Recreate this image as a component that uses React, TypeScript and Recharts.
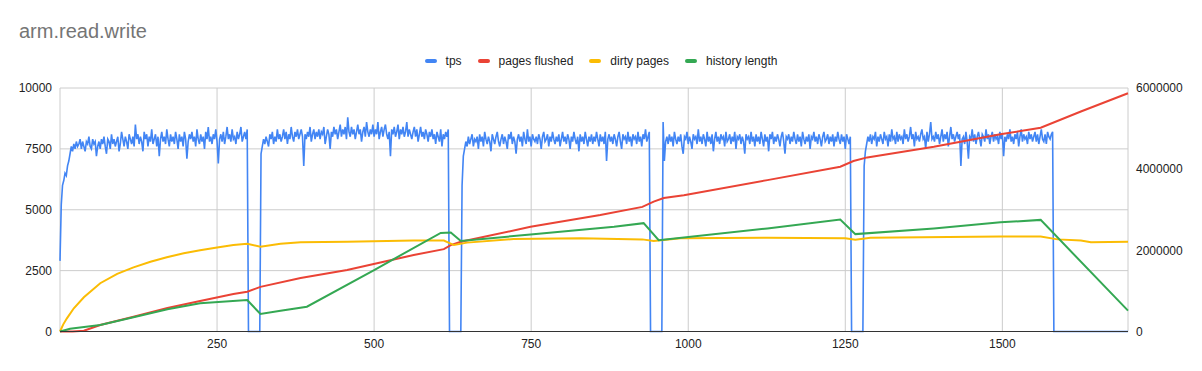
import { LineChart, Line, XAxis, YAxis, CartesianGrid } from "recharts";

// x ticks / axis ticks
const xTicks = [250, 500, 750, 1000, 1250, 1500];
const leftTicks = [0, 2500, 5000, 7500, 10000];
const rightTicks = [0, 2000000, 4000000, 6000000];

// tps is sampled every 2 seconds; each run starts at the x in tpsStarts
const TPS_STEP = 2;
const tpsStarts = [0, 300, 320, 620, 640, 940, 960, 1260, 1280, 1582];
const tpsRun1 = [
  2900, 5200, 6000, 6200, 6500, 6400, 6800, 7000, 7300, 7600, 7400, 7700, 7500, 7800, 7600,
  7700, 7900, 7500, 7800, 7600, 7400, 7800, 7700, 8000, 7600, 7500, 7900, 7700, 7800, 7200,
  7600, 7800, 7500, 7900, 7700, 8000, 7600, 7300, 7900, 7800, 7500, 8100, 7700, 7900, 7600,
  7800, 8000, 7400, 7700, 8200, 7900, 7600, 8000, 7800, 7500, 8100, 7900, 7700, 8000, 7600,
  8500, 7900, 8100, 7700, 8000, 7800, 7400, 8200, 7900, 8100, 7600, 8000, 7800, 8300, 7700,
  7900, 8100, 7600, 8000, 7200, 7900, 8200, 7800, 8000, 7700, 8300, 7900, 7600, 8100, 7800,
  8000, 7700, 8200, 7900, 7500, 8100, 7800, 8000, 7600, 8200, 7900, 7100, 7800, 8100, 7900,
  8200, 7800, 8000, 7600, 8300, 7900, 7700, 8100, 7800, 8000, 7500, 8200, 7900, 8400, 7800,
  8000, 7700, 8100, 7900, 8300, 7800, 6900, 7900, 8100, 7800, 8200, 7700, 8000, 8400, 7900,
  8100, 7800, 8300, 7900, 8000, 7700, 8200, 7900, 8100, 8400, 7800, 8000, 8200, 7900, 8300,
];
const tpsRun2 = [
  7300, 7600, 7900, 7700, 8000, 7800, 7600, 8100, 7900, 8200, 7700, 8000, 7800, 8300, 7900,
  8100, 7800, 8000, 8300, 7900, 8200, 7700, 8100, 7900, 8400, 8000, 7800, 8200, 8000, 8300,
  7900, 8100, 8300, 8000, 6800, 8100, 7900, 8200, 8000, 8400, 7800, 8100, 8300, 7900, 8200,
  8000, 8300, 7900, 8200, 8100, 8400, 7700, 8000, 8300, 8100, 7500, 8200, 8000, 8400, 8100,
  8300, 7900, 8200, 8500, 8000, 8300, 8100, 8400, 7900, 8800, 8200, 8000, 8400, 8100, 8300,
  7900, 8200, 8500, 8100, 8300, 7800, 8200, 8400, 8000, 8600, 8200, 8000, 8300, 8100, 8500,
  8000, 8300, 8100, 8600, 7900, 8200, 8400, 8000, 8300, 8500, 8100, 7900, 8200, 7200, 8300,
  8100, 8400, 8000, 8200, 8500, 7900, 8300, 8100, 8400, 8000, 8200, 8600, 8000, 8300, 8100,
  7900, 8200, 8400, 8000, 8300, 7800, 8100, 8400, 8000, 8200, 7900, 8300, 8100, 7800, 8200,
  8000, 8300, 7900, 8100, 7700, 8200, 8000, 7800, 8300, 7600, 8100, 7900, 8200, 8000, 8300,
];
const tpsRun3 = [
  6000, 7200, 7500, 7800, 7600, 8000, 7700, 7900, 8100, 7600, 7900, 7800, 8000, 7500, 8100,
  7800, 8000, 7600, 8200, 7900, 7700, 8000, 7800, 7400, 8100, 7900, 7700, 8000, 8200, 7800,
  7600, 7900, 8100, 7700, 8000, 7800, 7500, 8100, 7900, 8200, 7700, 8000, 7800, 7300, 7900,
  8100, 7800, 8000, 7600, 8200, 7900, 7700, 8300, 7800, 8000, 7600, 8100, 7900, 7800, 8000,
  7700, 8100, 7900, 7500, 8000, 8200, 7800, 7900, 8100, 7600, 8000, 7800, 8200, 7900, 7700,
  8000, 7800, 8100, 7600, 7900, 8200, 7800, 8000, 7700, 8100, 7900, 7500, 8000, 7800, 8200,
  7900, 7700, 8000, 7400, 8100, 7800, 8000, 7700, 8200, 7900, 7600, 8000, 7800, 8100, 7700,
  8000, 7800, 8200, 7900, 7600, 8100, 7800, 8000, 7700, 8200, 7000, 7900, 8100, 7800, 8000,
  7700, 8100, 7900, 7600, 8000, 8200, 7800, 7500, 8100, 7900, 8000, 7700, 8200, 7800, 8000,
  7600, 8100, 7900, 8000, 7700, 8200, 7800, 8000, 7600, 8100, 7900, 8300, 7800, 8000, 8200,
];
const tpsRun4 = [
  8600, 7000, 7800, 8000, 7700, 8100, 7800, 8000, 7600, 8200, 7900, 7700, 8000, 7800, 8100,
  7600, 7300, 8000, 7900, 8200, 7700, 8000, 7800, 7500, 8100, 7900, 8000, 7700, 8300, 7800,
  8000, 7700, 8100, 7900, 7600, 8200, 7800, 8000, 7700, 8100, 7400, 7900, 8200, 7800, 8000,
  7700, 8100, 7900, 8000, 7600, 8200, 7800, 7900, 8100, 7700, 8000, 7800, 8200, 7500, 8000,
  7900, 8100, 7700, 8000, 7800, 7300, 8100, 7900, 8000, 7700, 8200, 7800, 8000, 7600, 8100,
  7800, 8000, 7700, 8200, 7900, 7600, 8100, 7800, 8000, 7400, 8100, 7900, 8200, 7700, 8000,
  7800, 8100, 7900, 7600, 8000, 8200, 7800, 7300, 8000, 7900, 8100, 7700, 8000, 7800, 8200,
  7900, 7700, 8100, 7800, 8000, 7600, 8200, 7900, 7700, 8000, 7800, 8100, 7500, 8000, 7900,
  8200, 7800, 8000, 7700, 8100, 7900, 7600, 8000, 8200, 7800, 7900, 8100, 7700, 8000, 7800,
  8100, 7600, 8000, 7800, 8200, 7900, 7700, 8100, 7800, 8000, 7500, 8100, 7900, 7700, 8000,
];
const tpsRun5 = [
  6800, 7400, 7700, 8000, 7800, 8100, 7700, 8000, 7900, 8200, 7600, 8000, 7800, 8100, 7900,
  7700, 8200, 7900, 8000, 7600, 8100, 7800, 8300, 7900, 8000, 7700, 8200, 7800, 8100, 7900,
  8000, 7700, 8300, 7900, 8100, 7800, 8000, 8400, 7900, 8100, 7600, 8200, 7900, 8000, 7800,
  8100, 8300, 7900, 8000, 7500, 8200, 7800, 8100, 8600, 7900, 8000, 7800, 8200, 7900, 8100,
  7700, 8000, 8300, 7800, 8100, 7900, 8200, 7600, 8000, 8400, 7900, 8100, 7800, 8000, 8200,
  7900, 8100, 6800, 7900, 8000, 7700, 8200, 7800, 7100, 8000, 7900, 8300, 7800, 8100, 7700,
  8000, 8200, 7900, 7600, 8100, 8000, 7800, 8300, 7900, 8100, 7700, 8000, 8200, 7800, 8100,
  7900, 8000, 7700, 8200, 7900, 8100, 7200, 8000, 7800, 8100, 7900, 8300, 7800, 8000, 7700,
  8100, 7900, 8200, 7600, 8000, 8300, 7800, 8100, 7900, 8000, 7700, 8200, 7900, 8100, 7800,
  8000, 8200, 7800, 8100, 7700, 8000, 8300, 7900, 7800, 8100, 7700, 8200, 8000, 7900, 8100, 8200,
];
const tpsGapShort = [0, 0, 0, 0, 0, 0, 0, 0, 0, 0];
const tpsTail = [
  0, 0, 0, 0, 0, 0, 0, 0, 0, 0, 0, 0, 0, 0, 0, 0, 0, 0, 0, 0,
  0, 0, 0, 0, 0, 0, 0, 0, 0, 0, 0, 0, 0, 0, 0, 0, 0, 0, 0, 0,
  0, 0, 0, 0, 0, 0, 0, 0, 0, 0, 0, 0, 0, 0, 0, 0, 0, 0, 0, 0,
];
const tpsRuns = [
  tpsRun1, tpsGapShort, tpsRun2, tpsGapShort, tpsRun3,
  tpsGapShort, tpsRun4, tpsGapShort, tpsRun5, tpsTail,
];

// [seconds, value] on the right axis
const pagesFlushed: [number, number][] = [
  [0, 0], [20, 3000], [38, 20000], [64, 160000], [117, 365000], [171, 579000],
  [223, 752000], [276, 924000], [298, 980000], [319, 1100000], [383, 1320000],
  [457, 1515000], [510, 1700000], [563, 1885000], [611, 2030000], [622, 2130000],
  [638, 2210000], [749, 2580000], [860, 2870000], [927, 3070000], [945, 3200000],
  [961, 3290000], [993, 3360000], [1126, 3730000], [1242, 4060000], [1263, 4200000],
  [1285, 4290000], [1391, 4550000], [1497, 4860000], [1561, 5020000], [1625, 5420000],
  [1700, 5870000],
];
const dirtyPages: [number, number][] = [
  [0, 0], [5, 170000], [11, 325000], [22, 572000], [38, 843000], [64, 1190000],
  [91, 1420000], [117, 1580000], [144, 1720000], [170, 1830000], [197, 1930000],
  [223, 2000000], [250, 2070000], [276, 2130000], [298, 2160000], [319, 2090000],
  [351, 2160000], [383, 2200000], [457, 2210000], [563, 2240000], [611, 2240000],
  [627, 2130000], [648, 2190000], [722, 2280000], [829, 2300000], [927, 2270000],
  [945, 2230000], [988, 2300000], [1126, 2310000], [1250, 2300000], [1266, 2260000],
  [1290, 2310000], [1497, 2340000], [1561, 2340000], [1588, 2270000], [1625, 2240000],
  [1641, 2200000], [1700, 2210000],
];
const historyLength: [number, number][] = [
  [0, 0], [16, 69000], [64, 160000], [117, 350000], [171, 547000], [223, 695000],
  [298, 776000], [319, 431000], [351, 513000], [393, 611000], [500, 1515000],
  [606, 2430000], [622, 2440000], [638, 2230000], [749, 2390000], [882, 2580000],
  [929, 2670000], [953, 2250000], [1126, 2540000], [1242, 2760000], [1266, 2400000],
  [1391, 2540000], [1497, 2690000], [1561, 2750000], [1700, 513000],
];

const seriesNames = ["tps", "pages flushed", "dirty pages", "history length"];
const seriesColors = ["#4285F4", "#EA4335", "#FBBC04", "#34A853"];

const tpsData = tpsRuns.flatMap((run, r) =>
  run.map((v, i) => ({ x: tpsStarts[r] + i * TPS_STEP, v }))
);
const toRows = (pts: [number, number][]) => pts.map(([x, v]) => ({ x, v }));

const FONT = "'Liberation Sans', Arial, sans-serif";
const tick = { fontSize: 12, fill: "#222222", fontFamily: FONT };

export default function App() {
  return (
    <div
      style={{
        position: "absolute",
        left: 0,
        top: 0,
        width: 1202,
        height: 371,
        background: "#fff",
        fontFamily: FONT,
      }}
    >
      <div
        style={{
          position: "absolute",
          left: 19,
          top: 20,
          fontSize: 20,
          color: "#757575",
          lineHeight: "23px",
        }}
      >
        arm.read.write
      </div>
      <div
        style={{
          position: "absolute",
          left: 0,
          top: 54,
          width: 1202,
          display: "flex",
          justifyContent: "center",
          fontSize: 12,
          color: "#222",
          lineHeight: "14px",
        }}
      >
        {seriesNames.map((n, i) => (
          <div
            key={n}
            style={{
              display: "flex",
              alignItems: "center",
              marginRight: i < seriesNames.length - 1 ? 16 : 0,
            }}
          >
            <span
              style={{
                width: 12,
                height: 4,
                borderRadius: 2,
                background: seriesColors[i],
                marginRight: 9,
                display: "inline-block",
              }}
            />
            <span>{n}</span>
          </div>
        ))}
      </div>
      <LineChart
        width={1202}
        height={371}
        margin={{ top: 88, right: 10, bottom: 10, left: 10 }}
      >
        <CartesianGrid yAxisId="left" stroke="#cccccc" strokeWidth={1} />
        <XAxis
          dataKey="x"
          type="number"
          domain={[0, 1700]}
          ticks={xTicks}
          height={29.5}
          tick={tick}
          tickLine={false}
          axisLine={{ stroke: "#333333" }}
          allowDuplicatedCategory={false}
        />
        <YAxis
          yAxisId="left"
          domain={[0, 10000]}
          ticks={leftTicks}
          width={50}
          tick={tick}
          tickLine={false}
          axisLine={false}
        />
        <YAxis
          yAxisId="right"
          orientation="right"
          domain={[0, 6000000]}
          ticks={rightTicks}
          width={64}
          tick={{ ...tick, textAnchor: "start" }}
          tickLine={false}
          axisLine={false}
        />
        <Line
          yAxisId="left"
          data={tpsData}
          dataKey="v"
          name={seriesNames[0]}
          stroke={seriesColors[0]}
          strokeWidth={1.6}
          dot={false}
          activeDot={false}
          isAnimationActive={false}
        />
        <Line
          yAxisId="right"
          data={toRows(pagesFlushed)}
          dataKey="v"
          name={seriesNames[1]}
          stroke={seriesColors[1]}
          strokeWidth={2}
          dot={false}
          activeDot={false}
          isAnimationActive={false}
        />
        <Line
          yAxisId="right"
          data={toRows(dirtyPages)}
          dataKey="v"
          name={seriesNames[2]}
          stroke={seriesColors[2]}
          strokeWidth={2}
          dot={false}
          activeDot={false}
          isAnimationActive={false}
        />
        <Line
          yAxisId="right"
          data={toRows(historyLength)}
          dataKey="v"
          name={seriesNames[3]}
          stroke={seriesColors[3]}
          strokeWidth={2}
          dot={false}
          activeDot={false}
          isAnimationActive={false}
        />
      </LineChart>
    </div>
  );
}
